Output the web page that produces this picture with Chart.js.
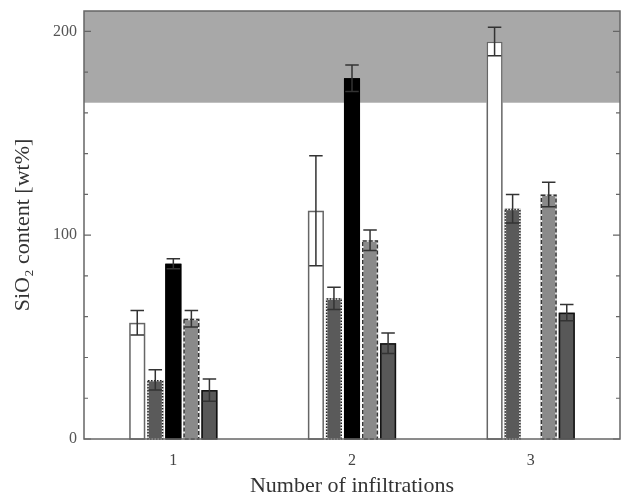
<!DOCTYPE html>
<html>
<head>
<meta charset="utf-8">
<script src="https://cdn.jsdelivr.net/npm/chart.js@4"></script>
<style>
  html, body { margin: 0; padding: 0; background: #fff; }
  #wrap { width: 621px; height: 499px; }
</style>
</head>
<body>
<div id="wrap"><canvas id="sioChart"></canvas></div>
<script>
// ===== datos =====
const categories = ['1', '2', '3'];

const whiteVals  = [57, 112, 195];
const whiteErr   = [6, 27, 7];
const dottedVals = [29, 69, 113];
const dottedErr  = [5, 5.5, 7];
const blackVals  = [86, 177, null];
const blackErr   = [2.5, 6.5, null];
const dashedVals = [59, 97.5, 120];
const dashedErr  = [4, 5, 6];
const darkVals   = [24, 47, 62];
const darkErr    = [5.5, 5, 4];

const yTicks = [0, 20, 40, 60, 80, 100, 120, 140, 160, 180, 200];
const yMajor = [0, 100, 200];
const yMin = 0;
const yMax = 210;
const bandFrom = 165;   // zona sombreada
const bandTo = 210;

const serif = "'Liberation Serif', 'DejaVu Serif', serif";

// estilos de borde por serie (se dibujan en el plugin)
const edgeStyles = [
    { color: '#666', dash: [], under: null },
    { color: '#222', dash: [1.5, 1.5], under: '#eee' },
    { color: '#000', dash: [], under: null },
    { color: '#333', dash: [4, 2], under: '#eee' },
    { color: '#111', dash: [], under: null }
];

const errorSets = [whiteErr, dottedErr, blackErr, dashedErr, darkErr];

/* ===== plugin: zona sombreada, bordes, barras de error y marco ===== */
const decorPlugin = {
    id: 'decor',
    beforeDatasetsDraw(chart) {
        const { ctx, chartArea, scales } = chart;
        const y1 = scales.y.getPixelForValue(bandTo);
        const y2 = scales.y.getPixelForValue(bandFrom);
        ctx.save();
        ctx.fillStyle = '#a8a8a8';
        ctx.fillRect(chartArea.left, y1, chartArea.right - chartArea.left, y2 - y1);
        ctx.restore();
    },
    afterDatasetsDraw(chart) {
        const { ctx, scales } = chart;
        ctx.save();
        chart.data.datasets.forEach((ds, i) => {
            const meta = chart.getDatasetMeta(i);
            const st = edgeStyles[i];
            meta.data.forEach((bar, j) => {
                if (ds.data[j] === null) return;
                const p = bar.getProps(['x', 'y', 'base', 'width'], true);
                const l = p.x - p.width / 2 + 0.75;
                const w = p.width - 1.5;
                const top = p.y + 0.75;
                const h = p.base - p.y - 0.75;
                // borde
                ctx.lineWidth = 1.5;
                if (st.under) {
                    ctx.setLineDash([]);
                    ctx.strokeStyle = st.under;
                    ctx.strokeRect(l, top, w, h);
                }
                ctx.setLineDash(st.dash);
                ctx.strokeStyle = st.color;
                ctx.strokeRect(l, top, w, h);
                ctx.setLineDash([]);

                // barra de error
                const err = errorSets[i][j];
                if (err === null) return;
                const v = ds.data[j];
                const yHi = scales.y.getPixelForValue(v + err);
                const yLo = scales.y.getPixelForValue(v - err);
                const cap = p.width * 0.42;
                ctx.strokeStyle = '#333';
                ctx.lineWidth = 1.5;
                ctx.beginPath();
                ctx.moveTo(p.x, yHi); ctx.lineTo(p.x, yLo);
                ctx.moveTo(p.x - cap, yHi); ctx.lineTo(p.x + cap, yHi);
                ctx.moveTo(p.x - cap, yLo); ctx.lineTo(p.x + cap, yLo);
                ctx.stroke();
            });
        });
        ctx.restore();
    },
    afterDraw(chart) {
        const { ctx, chartArea, scales } = chart;
        ctx.save();
        ctx.strokeStyle = '#666';
        ctx.lineWidth = 1.5;
        ctx.strokeRect(chartArea.left, chartArea.top,
            chartArea.right - chartArea.left, chartArea.bottom - chartArea.top);
        // marcas hacia dentro, izquierda y derecha
        ctx.lineWidth = 1.2;
        ctx.beginPath();
        yTicks.forEach(v => {
            const py = scales.y.getPixelForValue(v);
            const len = yMajor.includes(v) ? 7 : 4;
            ctx.moveTo(chartArea.left, py); ctx.lineTo(chartArea.left + len, py);
            ctx.moveTo(chartArea.right, py); ctx.lineTo(chartArea.right - len, py);
        });
        ctx.stroke();
        ctx.restore();
    }
};

function createChart() {
    const ctx = document.getElementById('sioChart').getContext('2d');

    const common = {
        borderWidth: 0,
        categoryPercentage: 0.505,
        barPercentage: 0.89
    };

    new Chart(ctx, {
        type: 'bar',
        data: {
            labels: categories,
            datasets: [
                { label: 'A', data: whiteVals,  backgroundColor: '#ffffff', ...common },
                { label: 'B', data: dottedVals, backgroundColor: '#5a5a5a', ...common },
                { label: 'C', data: blackVals,  backgroundColor: '#000000', ...common },
                { label: 'D', data: dashedVals, backgroundColor: '#8a8a8a', ...common },
                { label: 'E', data: darkVals,   backgroundColor: '#585858', ...common }
            ]
        },
        options: {
            responsive: true,
            maintainAspectRatio: false,
            animation: false,
            layout: { padding: { top: 11, right: 1, left: 0, bottom: 0 } },
            plugins: {
                legend: { display: false },
                tooltip: { enabled: false }
            },
            scales: {
                x: {
                    grid: { display: false, drawTicks: false },
                    border: { display: false },
                    ticks: {
                        font: { family: serif, size: 16 },
                        color: '#444',
                        padding: 12
                    },
                    title: {
                        display: true,
                        text: 'Number of infiltrations',
                        font: { family: serif, size: 22 },
                        color: '#333',
                        padding: { top: 0, bottom: 0 }
                    },
                    afterFit: function(scale) { scale.height = 60; }
                },
                y: {
                    min: yMin,
                    max: yMax,
                    grid: { display: false, drawTicks: false },
                    border: { display: false },
                    afterBuildTicks: function(scale) {
                        scale.ticks = yTicks.map(v => ({ value: v }));
                    },
                    ticks: {
                        font: { family: serif, size: 16 },
                        color: '#555',
                        padding: 7,
                        autoSkip: false,
                        callback: function(value) {
                            return yMajor.includes(value) ? String(value) : '';
                        }
                    },
                    title: {
                        display: true,
                        text: 'SiO₂ content [wt%]',
                        font: { family: serif, size: 22 },
                        color: '#333',
                        padding: { top: 10, bottom: 0 }
                    },
                    afterFit: function(scale) {
                        scale.width = 84;
                        scale.paddingTop = 0;
                        scale.paddingBottom = 0;
                    }
                }
            }
        },
        plugins: [decorPlugin]
    });
}

document.addEventListener('DOMContentLoaded', createChart);
</script>
</body>
</html>
